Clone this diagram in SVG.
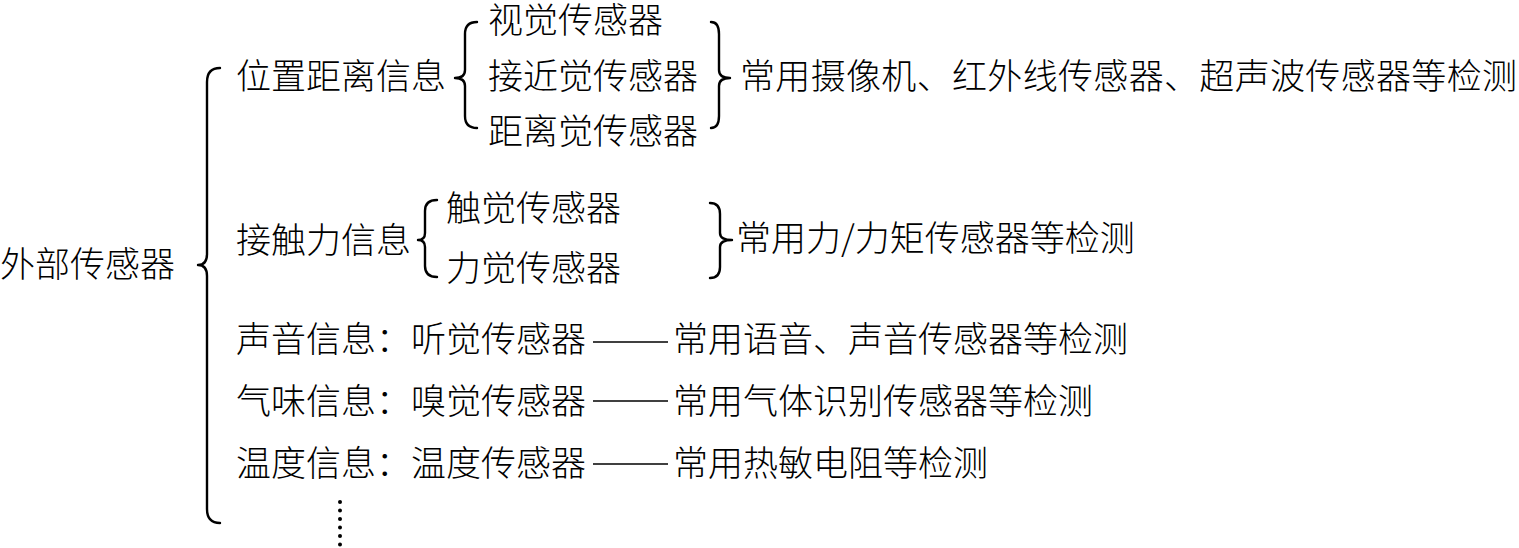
<svg xmlns="http://www.w3.org/2000/svg" width="1519" height="548" viewBox="0 0 1519 548">
<style>
text{font-family:"Noto Sans CJK SC","Noto Sans CJK JP",sans-serif;font-size:35px;font-weight:300;fill:#000}
.br{fill:none;stroke:#000;stroke-width:2.4;stroke-linejoin:round;stroke-linecap:round}
.dash{stroke:#000;stroke-width:1.6}
</style>
<rect width="1519" height="548" fill="#fff"/>
<g id="root"><text x="0" y="277">外部传感器</text></g>
<g id="pos"><text x="236" y="89">位置距离信息</text></g>
<g id="vision"><text x="488" y="33">视觉传感器</text></g>
<g id="proximity"><text x="488" y="89">接近觉传感器</text></g>
<g id="distance"><text x="488" y="144">距离觉传感器</text></g>
<g id="pos-note"><text x="740" y="89" textLength="777" lengthAdjust="spacing">常用摄像机、红外线传感器、超声波传感器等检测</text></g>
<g id="contact"><text x="236" y="253">接触力信息</text></g>
<g id="tactile"><text x="446" y="221">触觉传感器</text></g>
<g id="force"><text x="446" y="281">力觉传感器</text></g>
<g id="contact-note"><text x="736" y="251">常用力/力矩传感器等检测</text></g>
<g id="sound"><text x="236" y="352">声音信息：听觉传感器</text><text x="673" y="352">常用语音、声音传感器等检测</text></g>
<g id="smell"><text x="236" y="414">气味信息：嗅觉传感器</text><text x="673" y="414">常用气体识别传感器等检测</text></g>
<g id="temp"><text x="236" y="476">温度信息：温度传感器</text><text x="673" y="476">常用热敏电阻等检测</text></g>
<g id="connectors">
<path class="br" d="M220,68 Q207,68 207,82 L207,254 Q207,265 198,265 Q207,265 207,276 L207,509 Q207,523 220,523"/>
<path class="br" d="M477,22 Q465,22 465,34 L465,70 Q465,78 455,78 Q465,78 465,86 L465,116 Q465,128 477,128"/>
<path class="br" d="M711,22 Q719,22 719,34 L719,70 Q719,78 730,78 Q719,78 719,86 L719,116 Q719,128 711,128"/>
<path class="br" d="M437,200 Q425,200 425,211 L425,233 Q425,240 418,240 Q425,240 425,247 L425,266 Q425,277 437,277"/>
<path class="br" d="M710,203 Q720,203 720,214 L720,233 Q720,240 732,240 Q720,240 720,247 L720,267 Q720,278 710,278"/>
<line class="dash" x1="593" y1="342" x2="668" y2="342"/>
<line class="dash" x1="593" y1="401" x2="668" y2="401"/>
<line class="dash" x1="593" y1="464" x2="668" y2="464"/>
<g fill="#000"><circle cx="340" cy="502" r="2"/><circle cx="340" cy="510.5" r="2"/><circle cx="340" cy="519" r="2"/><circle cx="340" cy="527.5" r="2"/><circle cx="340" cy="536" r="2"/><circle cx="340" cy="544.5" r="2"/></g>
</g>
</svg>
